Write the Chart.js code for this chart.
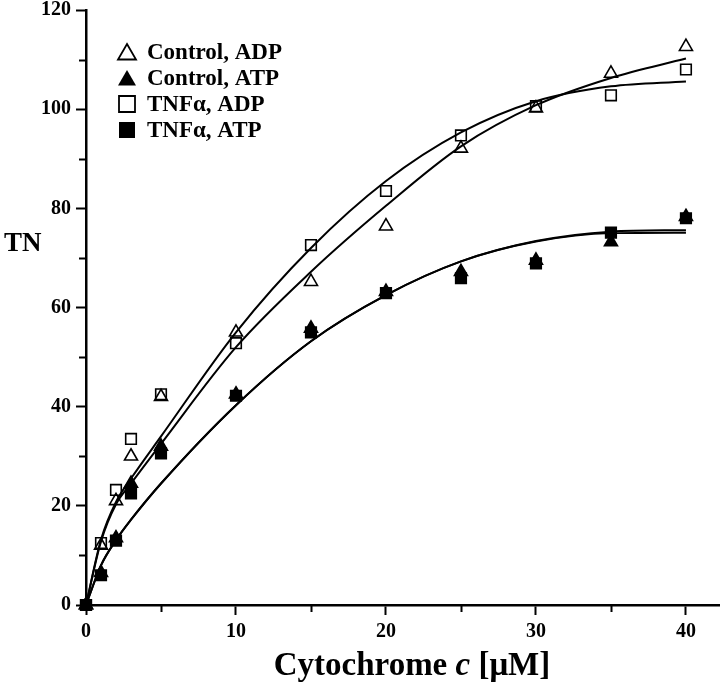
<!DOCTYPE html>
<html><head><meta charset="utf-8">
<script src="https://cdn.jsdelivr.net/npm/chart.js@4/dist/chart.umd.min.js"></script>
<style>html,body{margin:0;padding:0;background:#fff;}#wrap{width:720px;height:682px;}</style>
</head><body><div id="wrap"><canvas id="c" width="720" height="682"></canvas></div>
<script>
// ---- data ----
const concentrations = [0, 1, 2, 3, 5, 10, 15, 20, 25, 30, 35, 40];
const controlADP = [0, 12, 21, 30, 42, 55, 65.2, 76.4, 92.1, 100.2, 107.2, 112.6];
const controlATP = [0, 6.5, 13.5, 24.5, 32, 42.5, 55.8, 63.2, 67.2, 69.5, 73.2, 78.3];
const tnfADP     = [0, 12.5, 23.2, 33.5, 42.5, 52.8, 72.6, 83.5, 94.7, 100.6, 102.8, 108];
const tnfATP     = [0, 6, 13, 22.5, 30.6, 42.2, 55, 62.9, 65.9, 68.9, 75.1, 78];

// fitted curves (at these concentrations)
const fitX          = [0, 1, 2, 3, 5, 10, 15, 20, 25, 30, 35, 40];
const fitControlADP = [0, 12.8, 20.3, 24.5, 32.5, 52, 67.2, 80.5, 92.5, 100.8, 106.3, 110.2];
const fitTnfADP     = [0, 13.2, 20.8, 25.5, 34, 55, 72, 85.5, 95.3, 101.6, 104.6, 105.6];
const fitControlATP = [0, 8, 13.1, 17.2, 24.5, 40.3, 53.2, 62.5, 69.3, 73.4, 75.3, 75.6];
const fitTnfATP     = [0, 8, 13.1, 17.2, 24.5, 40.3, 53.2, 62.5, 69.3, 73.3, 75.0, 75.1];

const seriesLabels = ['Control, ADP', 'Control, ATP', 'TNF\u03b1, ADP', 'TNF\u03b1, ATP'];
const yTickValues = [0, 20, 40, 60, 80, 100, 120];
const yMinorTicks = [10, 30, 50, 70, 90, 110];
const xTickValues = [0, 10, 20, 30, 40];
const xMinorTicks = [5, 15, 25, 35];

const FONT = "'Liberation Serif','Times New Roman',serif";

function pts(xs, ys) { return xs.map((x, i) => ({ x: x, y: ys[i] })); }

const markerStyles = [
  { pointStyle: 'triangle', fill: false },
  { pointStyle: 'triangle', fill: true },
  { pointStyle: 'rect', fill: false },
  { pointStyle: 'rect', fill: true }
];
const seriesValues = [controlADP, controlATP, tnfADP, tnfATP];
const fitValues = [fitControlADP, fitControlATP, fitTnfADP, fitTnfATP];

const datasets = [];
seriesValues.forEach((vals, i) => {
  datasets.push({
    type: 'scatter',
    label: seriesLabels[i],
    data: pts(concentrations, vals),
    pointStyle: markerStyles[i].pointStyle,
    pointRadius: 7.5,
    pointBorderWidth: 1.6,
    pointBorderColor: '#000',
    pointBackgroundColor: markerStyles[i].fill ? '#000' : 'rgba(0,0,0,0)',
    showLine: false,
    clip: false,
    order: 1
  });
});
fitValues.forEach((vals, i) => {
  datasets.push({
    type: 'line',
    label: 'fit ' + seriesLabels[i],
    data: pts(fitX, vals),
    borderColor: '#000',
    borderWidth: 2,
    pointRadius: 0,
    fill: false,
    cubicInterpolationMode: 'monotone',
    order: 2
  });
});

const decorPlugin = {
  id: 'decor',
  afterDraw(chart) {
    const ctx = chart.ctx;
    const xs = chart.scales.x, ys = chart.scales.y;
    const a = chart.chartArea;
    ctx.save();
    ctx.strokeStyle = '#000';
    ctx.lineWidth = 2;
    ctx.beginPath();
    yMinorTicks.forEach(v => {
      const p = Math.round(ys.getPixelForValue(v)) + 0.5;
      ctx.moveTo(a.left - 1, p); ctx.lineTo(a.left - 7, p);
    });
    xMinorTicks.forEach(v => {
      const p = Math.round(xs.getPixelForValue(v)) + 0.5;
      ctx.moveTo(p, a.bottom + 1); ctx.lineTo(p, a.bottom + 7);
    });
    ctx.stroke();

    ctx.fillStyle = '#000';
    // y title
    ctx.font = 'bold 27px ' + FONT;
    ctx.textAlign = 'left';
    ctx.textBaseline = 'middle';
    ctx.fillText('TN', 4, 244);

    // x title with italic c
    const parts = [
      { t: 'Cytochrome ', f: 'bold 33px ' + FONT },
      { t: 'c', f: 'italic bold 33px ' + FONT },
      { t: ' [\u03bcM]', f: 'bold 33px ' + FONT }
    ];
    let total = 0;
    parts.forEach(p => { ctx.font = p.f; p.w = ctx.measureText(p.t).width; total += p.w; });
    let x = 412 - total / 2;
    ctx.textBaseline = 'alphabetic';
    parts.forEach(p => { ctx.font = p.f; ctx.fillText(p.t, x, 675); x += p.w; });

    // legend
    ctx.font = 'bold 23px ' + FONT;
    ctx.textBaseline = 'middle';
    ctx.lineWidth = 1.8;
    for (let i = 0; i < 4; i++) {
      const cy = 52 + i * 26;
      const cx = 127;
      const ms = markerStyles[i];
      ctx.beginPath();
      if (ms.pointStyle === 'triangle') {
        ctx.moveTo(cx, cy - 8); ctx.lineTo(cx + 9, cy + 7.5); ctx.lineTo(cx - 9, cy + 7.5); ctx.closePath();
      } else {
        ctx.rect(cx - 8, cy - 8, 16, 16);
      }
      if (ms.fill) { ctx.fill(); } else { ctx.stroke(); }
      ctx.fillText(seriesLabels[i], 147, cy + 1);
    }
    ctx.restore();
  }
};

new Chart(document.getElementById('c'), {
  data: { datasets: datasets },
  options: {
    responsive: false,
    animation: false,
    devicePixelRatio: 1,
    layout: { autoPadding: false, padding: { top: 10, left: 0, right: 0, bottom: 0 } },
    plugins: { legend: { display: false }, tooltip: { enabled: false } },
    scales: {
      x: {
        type: 'linear', position: 'bottom', min: 0, max: 42.27,
        border: { color: '#000', width: 2.5 },
        grid: { drawOnChartArea: false, drawTicks: true, tickLength: 10, tickWidth: 2, tickColor: '#000' },
        ticks: { stepSize: 10, includeBounds: false, color: '#000', padding: 5, maxRotation: 0,
                 font: { family: FONT, size: 20, weight: 'bold' } },
        afterBuildTicks(s) { s.ticks = xTickValues.map(v => ({ value: v })); },
        afterFit(s) { s.height = 77; s.paddingLeft = 0; s.paddingRight = 0; }
      },
      y: {
        type: 'linear', position: 'left', min: 0, max: 120,
        border: { color: '#000', width: 2.5 },
        grid: { drawOnChartArea: false, drawTicks: true, tickLength: 10, tickWidth: 2, tickColor: '#000' },
        ticks: { stepSize: 20, color: '#000', padding: 5,
                 font: { family: FONT, size: 20, weight: 'bold' } },
        afterBuildTicks(s) { s.ticks = yTickValues.map(v => ({ value: v })); },
        afterFit(s) { s.width = 86; s.paddingTop = 0; s.paddingBottom = 0; }
      }
    }
  },
  plugins: [decorPlugin]
});
</script>
</body></html>
